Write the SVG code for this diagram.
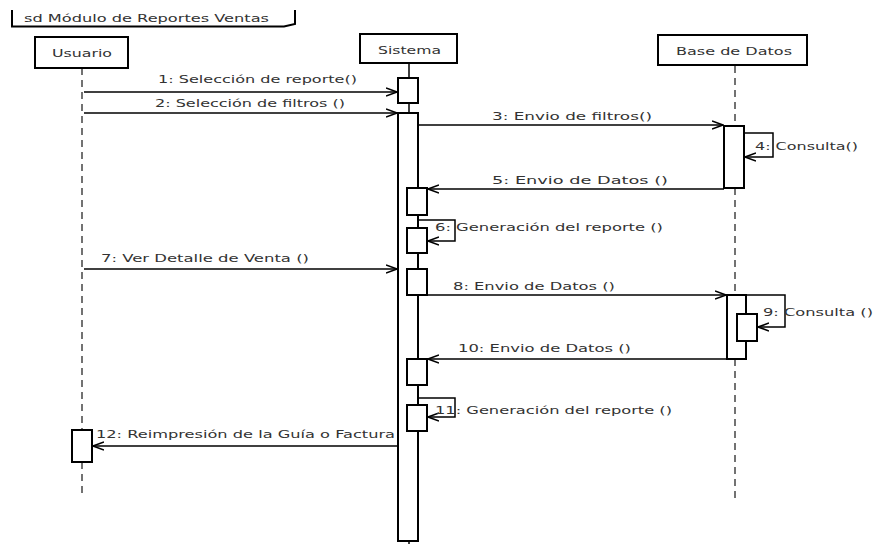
<svg xmlns="http://www.w3.org/2000/svg" width="877" height="544" viewBox="0 0 877 544">
  <style>
    text { font-family: "DejaVu Sans", "Liberation Sans", sans-serif; font-size: 11px; fill: #333; }
    .box { fill: #fff; stroke: #000; stroke-width: 2; }
    .act { fill: #fff; stroke: #000; stroke-width: 2; }
    .life { stroke: #444; stroke-width: 1.5; stroke-dasharray: 7 5; fill: none; }
    .solid { stroke: #000; stroke-width: 1.5; fill: none; }
    .msg { stroke: #000; stroke-width: 1.5; fill: none; marker-end: url(#open); }
  </style>
  <defs>
    <marker id="open" viewBox="0 0 12 10" refX="11" refY="5" markerWidth="12" markerHeight="10" markerUnits="userSpaceOnUse" orient="auto">
      <path d="M0,1 L11,5 L0,9" fill="none" stroke="#000" stroke-width="1.6"/>
    </marker>
  </defs>
  <rect width="877" height="544" fill="#fff"/>

  <!-- frame label -->
  <g id="frame">
    <path d="M12,10 V26.5 H284 L295,24 V10" fill="none" stroke="#000" stroke-width="2"/>
    <text x="24" y="22" textLength="245" lengthAdjust="spacingAndGlyphs">sd Módulo de Reportes Ventas</text>
  </g>

  <!-- lifelines -->
  <g id="lifelines">
    <line class="life" x1="82" y1="68" x2="82" y2="430"/>
    <line class="life" x1="82" y1="462" x2="82" y2="497"/>
    <line class="solid" x1="409" y1="63" x2="409" y2="78"/>
    <line class="solid" x1="409" y1="103" x2="409" y2="113"/>
    <line class="solid" x1="409" y1="541" x2="409" y2="544"/>
    <line class="life" x1="735" y1="66" x2="735" y2="126"/>
    <line class="life" x1="735" y1="188" x2="735" y2="295"/>
    <line class="life" x1="735" y1="359" x2="735" y2="500"/>
  </g>

  <!-- participants -->
  <g id="usuario">
    <rect class="box" x="35" y="37" width="93" height="31"/>
    <text x="52" y="57" textLength="60" lengthAdjust="spacingAndGlyphs">Usuario</text>
    <rect class="act" x="72" y="430" width="20" height="32"/>
  </g>
  <g id="sistema">
    <rect class="box" x="360" y="34" width="97" height="29"/>
    <text x="378" y="54" textLength="63" lengthAdjust="spacingAndGlyphs">Sistema</text>
    <rect class="act" x="398" y="78" width="20" height="25"/>
    <rect class="act" x="398" y="113" width="20" height="428"/>
    <rect class="act" x="407" y="188" width="20" height="27"/>
    <rect class="act" x="407" y="228" width="20" height="25"/>
    <rect class="act" x="407" y="269" width="20" height="26"/>
    <rect class="act" x="407" y="359" width="20" height="26"/>
    <rect class="act" x="407" y="405" width="20" height="26"/>
  </g>
  <g id="base-de-datos">
    <rect class="box" x="658" y="35" width="149" height="30"/>
    <text x="676" y="55" textLength="116" lengthAdjust="spacingAndGlyphs">Base de Datos</text>
    <rect class="act" x="724" y="126" width="20" height="62"/>
    <rect class="act" x="727" y="295" width="19" height="64"/>
    <rect class="act" x="737" y="314" width="20" height="27"/>
  </g>

  <!-- messages -->
  <g id="connectors">
    <line class="msg" x1="84" y1="92" x2="397" y2="92"/>
    <line class="msg" x1="84" y1="113" x2="397" y2="113"/>
    <line class="msg" x1="418" y1="125" x2="723" y2="125"/>
    <path class="msg" d="M744,133 H773 V157 H745"/>
    <line class="msg" x1="724" y1="189" x2="428" y2="189"/>
    <path class="msg" d="M418,220 H455 V241 H428"/>
    <line class="msg" x1="84" y1="269" x2="397" y2="269"/>
    <line class="msg" x1="427" y1="295" x2="726" y2="295"/>
    <path class="msg" d="M746,295 H785 V327 H758"/>
    <line class="msg" x1="727" y1="359" x2="428" y2="359"/>
    <path class="msg" d="M418,398 H455 V417 H428"/>
    <line class="msg" x1="398" y1="446" x2="93" y2="446"/>
  </g>

  <!-- message labels -->
  <g id="labels">
    <text x="158" y="83" textLength="199" lengthAdjust="spacingAndGlyphs">1: Selección de reporte()</text>
    <text x="155" y="107" textLength="190" lengthAdjust="spacingAndGlyphs">2: Selección de filtros ()</text>
    <text x="492" y="120" textLength="160" lengthAdjust="spacingAndGlyphs">3: Envio de filtros()</text>
    <text x="755" y="150" textLength="103" lengthAdjust="spacingAndGlyphs">4: Consulta()</text>
    <text x="492" y="184" textLength="176" lengthAdjust="spacingAndGlyphs">5: Envio de Datos ()</text>
    <text x="435" y="231" textLength="228" lengthAdjust="spacingAndGlyphs">6: Generación del reporte ()</text>
    <text x="101" y="262" textLength="208" lengthAdjust="spacingAndGlyphs">7: Ver Detalle de Venta ()</text>
    <text x="453" y="290" textLength="162" lengthAdjust="spacingAndGlyphs">8: Envio de Datos ()</text>
    <text x="763" y="316" textLength="110" lengthAdjust="spacingAndGlyphs">9: Consulta ()</text>
    <text x="458" y="352" textLength="173" lengthAdjust="spacingAndGlyphs">10: Envio de Datos ()</text>
    <text x="435" y="414" textLength="237" lengthAdjust="spacingAndGlyphs">11: Generación del reporte ()</text>
    <text x="96" y="438" textLength="299" lengthAdjust="spacingAndGlyphs">12: Reimpresión de la Guía o Factura</text>
  </g>
</svg>
